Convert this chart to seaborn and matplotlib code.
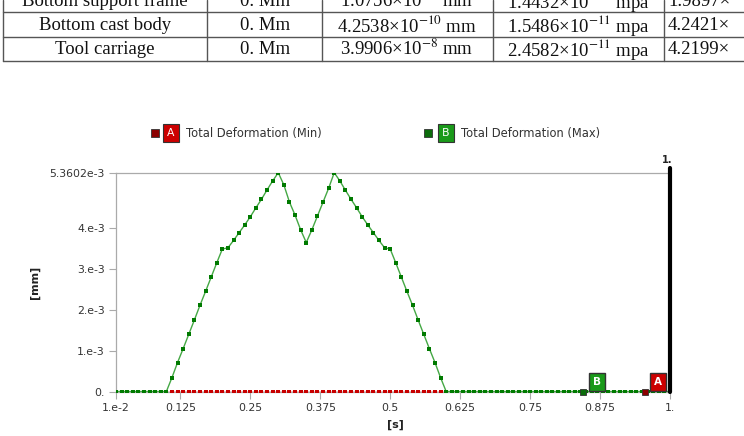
import numpy as np
import matplotlib
matplotlib.use("Agg")
import matplotlib.pyplot as plt
import seaborn as sns
from matplotlib.lines import Line2D

# table rows above the chart (top row is cut off in the source)
table_rows = [
    ["Bottom support frame", "0. Mm", "1.0756\u00d710$^{-9}$ mm", "1.4432\u00d710$^{-11}$ mpa", "1.9897\u00d7"],
    ["Bottom cast body", "0. Mm", "4.2538\u00d710$^{-10}$ mm", "1.5486\u00d710$^{-11}$ mpa", "4.2421\u00d7"],
    ["Tool carriage", "0. Mm", "3.9906\u00d710$^{-8}$ mm", "2.4582\u00d710$^{-11}$ mpa", "4.2199\u00d7"],
]

# time steps [s]
time_s = np.round(np.arange(1, 101) * 0.01, 2)

# Total Deformation (Min) [mm]
defo_min = [0.0] * 100

# Total Deformation (Max) [mm] (x1e-3)
defo_max_e3 = (
    [0.0] * 10
    + [0.34, 0.71, 1.05, 1.40, 1.75, 2.11, 2.45, 2.80, 3.15, 3.49,
       3.52, 3.70, 3.89, 4.08, 4.28, 4.50, 4.71, 4.94, 5.16, 5.3602,
       5.06, 4.64, 4.32, 3.96, 3.65, 3.96, 4.30, 4.64, 4.98, 5.3602,
       5.16, 4.93, 4.71, 4.50, 4.28, 4.08, 3.89, 3.70, 3.52, 3.49,
       3.15, 2.80, 2.45, 2.11, 1.75, 1.40, 1.05, 0.71, 0.34, 0.0]
    + [0.0] * 40
)
defo_max = np.array(defo_max_e3) * 1e-3

xticks = [0.01, 0.125, 0.25, 0.375, 0.5, 0.625, 0.75, 0.875, 1.0]
xtick_labels = ["1.e-2", "0.125", "0.25", "0.375", "0.5", "0.625", "0.75", "0.875", "1."]
yticks = [0.0, 1e-3, 2e-3, 3e-3, 4e-3, 5.3602e-3]
ytick_labels = ["0.", "1.e-3", "2.e-3", "3.e-3", "4.e-3", "5.3602e-3"]

red = "#c80000"
green = "#45a845"
green_mark = "#007a00"

sns.set_style("white")
plt.rcParams["mathtext.fontset"] = "stix"
fig = plt.figure(figsize=(7.44, 4.36), dpi=100)

# ---- table fragment at the top ----
W, H = 744.0, 436.0
col_x = [3, 207, 322, 493, 664]
row_lines = [12, 37, 61]
row_text_y = [1, 25, 49]
for y in row_lines:
    fig.add_artist(Line2D([col_x[0] / W, 1.0], [1 - y / H, 1 - y / H], color="#555555", lw=1.0))
for x in col_x:
    fig.add_artist(Line2D([x / W, x / W], [1.0, 1 - 61 / H], color="#555555", lw=1.0))
col_centers = [105, 265, 407, 578, 668]
for r, row in enumerate(table_rows):
    for c, txt in enumerate(row):
        ha = "left" if c == 4 else "center"
        fig.text(col_centers[c] / W, 1 - row_text_y[r] / H, txt, ha=ha, va="center",
                 family="Liberation Serif", fontsize=13.5, color="#111111")

# ---- chart ----
ax = fig.add_axes([116 / W, 1 - 391.5 / H, 554 / W, (391.5 - 172.7) / H])
sns.lineplot(x=time_s, y=defo_min, ax=ax, color=red, lw=1.0, marker="s", markersize=2.6,
             markeredgewidth=0, markerfacecolor=red, zorder=3)
sns.lineplot(x=time_s, y=defo_max, ax=ax, color=green, lw=1.0, marker="s", markersize=2.6,
             markeredgewidth=0, markerfacecolor=green_mark, zorder=4)

ax.set_xlim(0.01, 1.0)
ax.set_ylim(0, 5.3602e-3)
ax.set_xticks(xticks)
ax.set_xticklabels(xtick_labels)
ax.set_yticks(yticks)
ax.set_yticklabels(ytick_labels)
ax.tick_params(axis="both", which="both", direction="out", length=5, width=0.8, color="#aaaaaa",
               labelsize=7.8, labelcolor="#333333", pad=3, bottom=True, left=True)
ax.spines["right"].set_visible(False)
for side in ["left", "top", "bottom"]:
    ax.spines[side].set_color("#aaaaaa")
    ax.spines[side].set_linewidth(0.9)

# current time cursor at t = 1
ax.plot([1.0, 1.0], [0, 1.02], transform=ax.get_xaxis_transform(), color="black", lw=3,
        clip_on=False, zorder=6)
ax.text(0.995, 1.035, "1.", transform=ax.get_xaxis_transform(), ha="center", va="bottom",
        fontsize=7, fontweight="bold", color="#222222")

ax.set_ylabel("[mm]", fontsize=8, fontweight="bold", color="#222222")
ax.yaxis.set_label_coords(-0.138, 0.5)
ax.set_xlabel("[s]", fontsize=8, fontweight="bold", color="#222222")
ax.xaxis.set_label_coords(0.504, -0.13)

# probe labels on the curves
def probe(x_box, x_sq, letter, fill, dark):
    ax.plot([x_sq], [0], marker="s", markersize=5, color=dark, markeredgecolor="#333333",
            markeredgewidth=0.6, transform=ax.get_xaxis_transform(), zorder=7, clip_on=False)
    ax.annotate(letter, xy=(x_box, 0), xycoords=("data", "axes fraction"),
                xytext=(0, 7), textcoords="offset points", ha="center", va="center",
                fontsize=7.5, fontweight="bold", color="white", zorder=8,
                bbox=dict(boxstyle="square,pad=0.4", fc=fill, ec="#333333", lw=1.0))

probe(0.87, 0.845, "B", "#1a9a1a", "#0b6b0b")
probe(0.978, 0.955, "A", "#cc0000", "#8b0000")

# legend row
def legend_item(x_sq, x_box, x_txt, letter, fill, dark, label):
    y = 1 - 133 / H
    fig.add_artist(Line2D([x_sq / W], [y], marker="s", markersize=6, color=dark,
                          markeredgecolor="#333333", markeredgewidth=0.6))
    fig.text(x_box / W, y, letter, ha="center", va="center", fontsize=7.8, color="white",
             bbox=dict(boxstyle="square,pad=0.35", fc=fill, ec="#333333", lw=0.8))
    fig.text(x_txt / W, y, label, ha="left", va="center", fontsize=8.3, color="#333333")

legend_item(155, 171, 186, "A", "#cc0000", "#8b0000", "Total Deformation (Min)")
legend_item(428, 446, 461, "B", "#1a9a1a", "#0b6b0b", "Total Deformation (Max)")

fig.savefig("out.png", dpi=100)
